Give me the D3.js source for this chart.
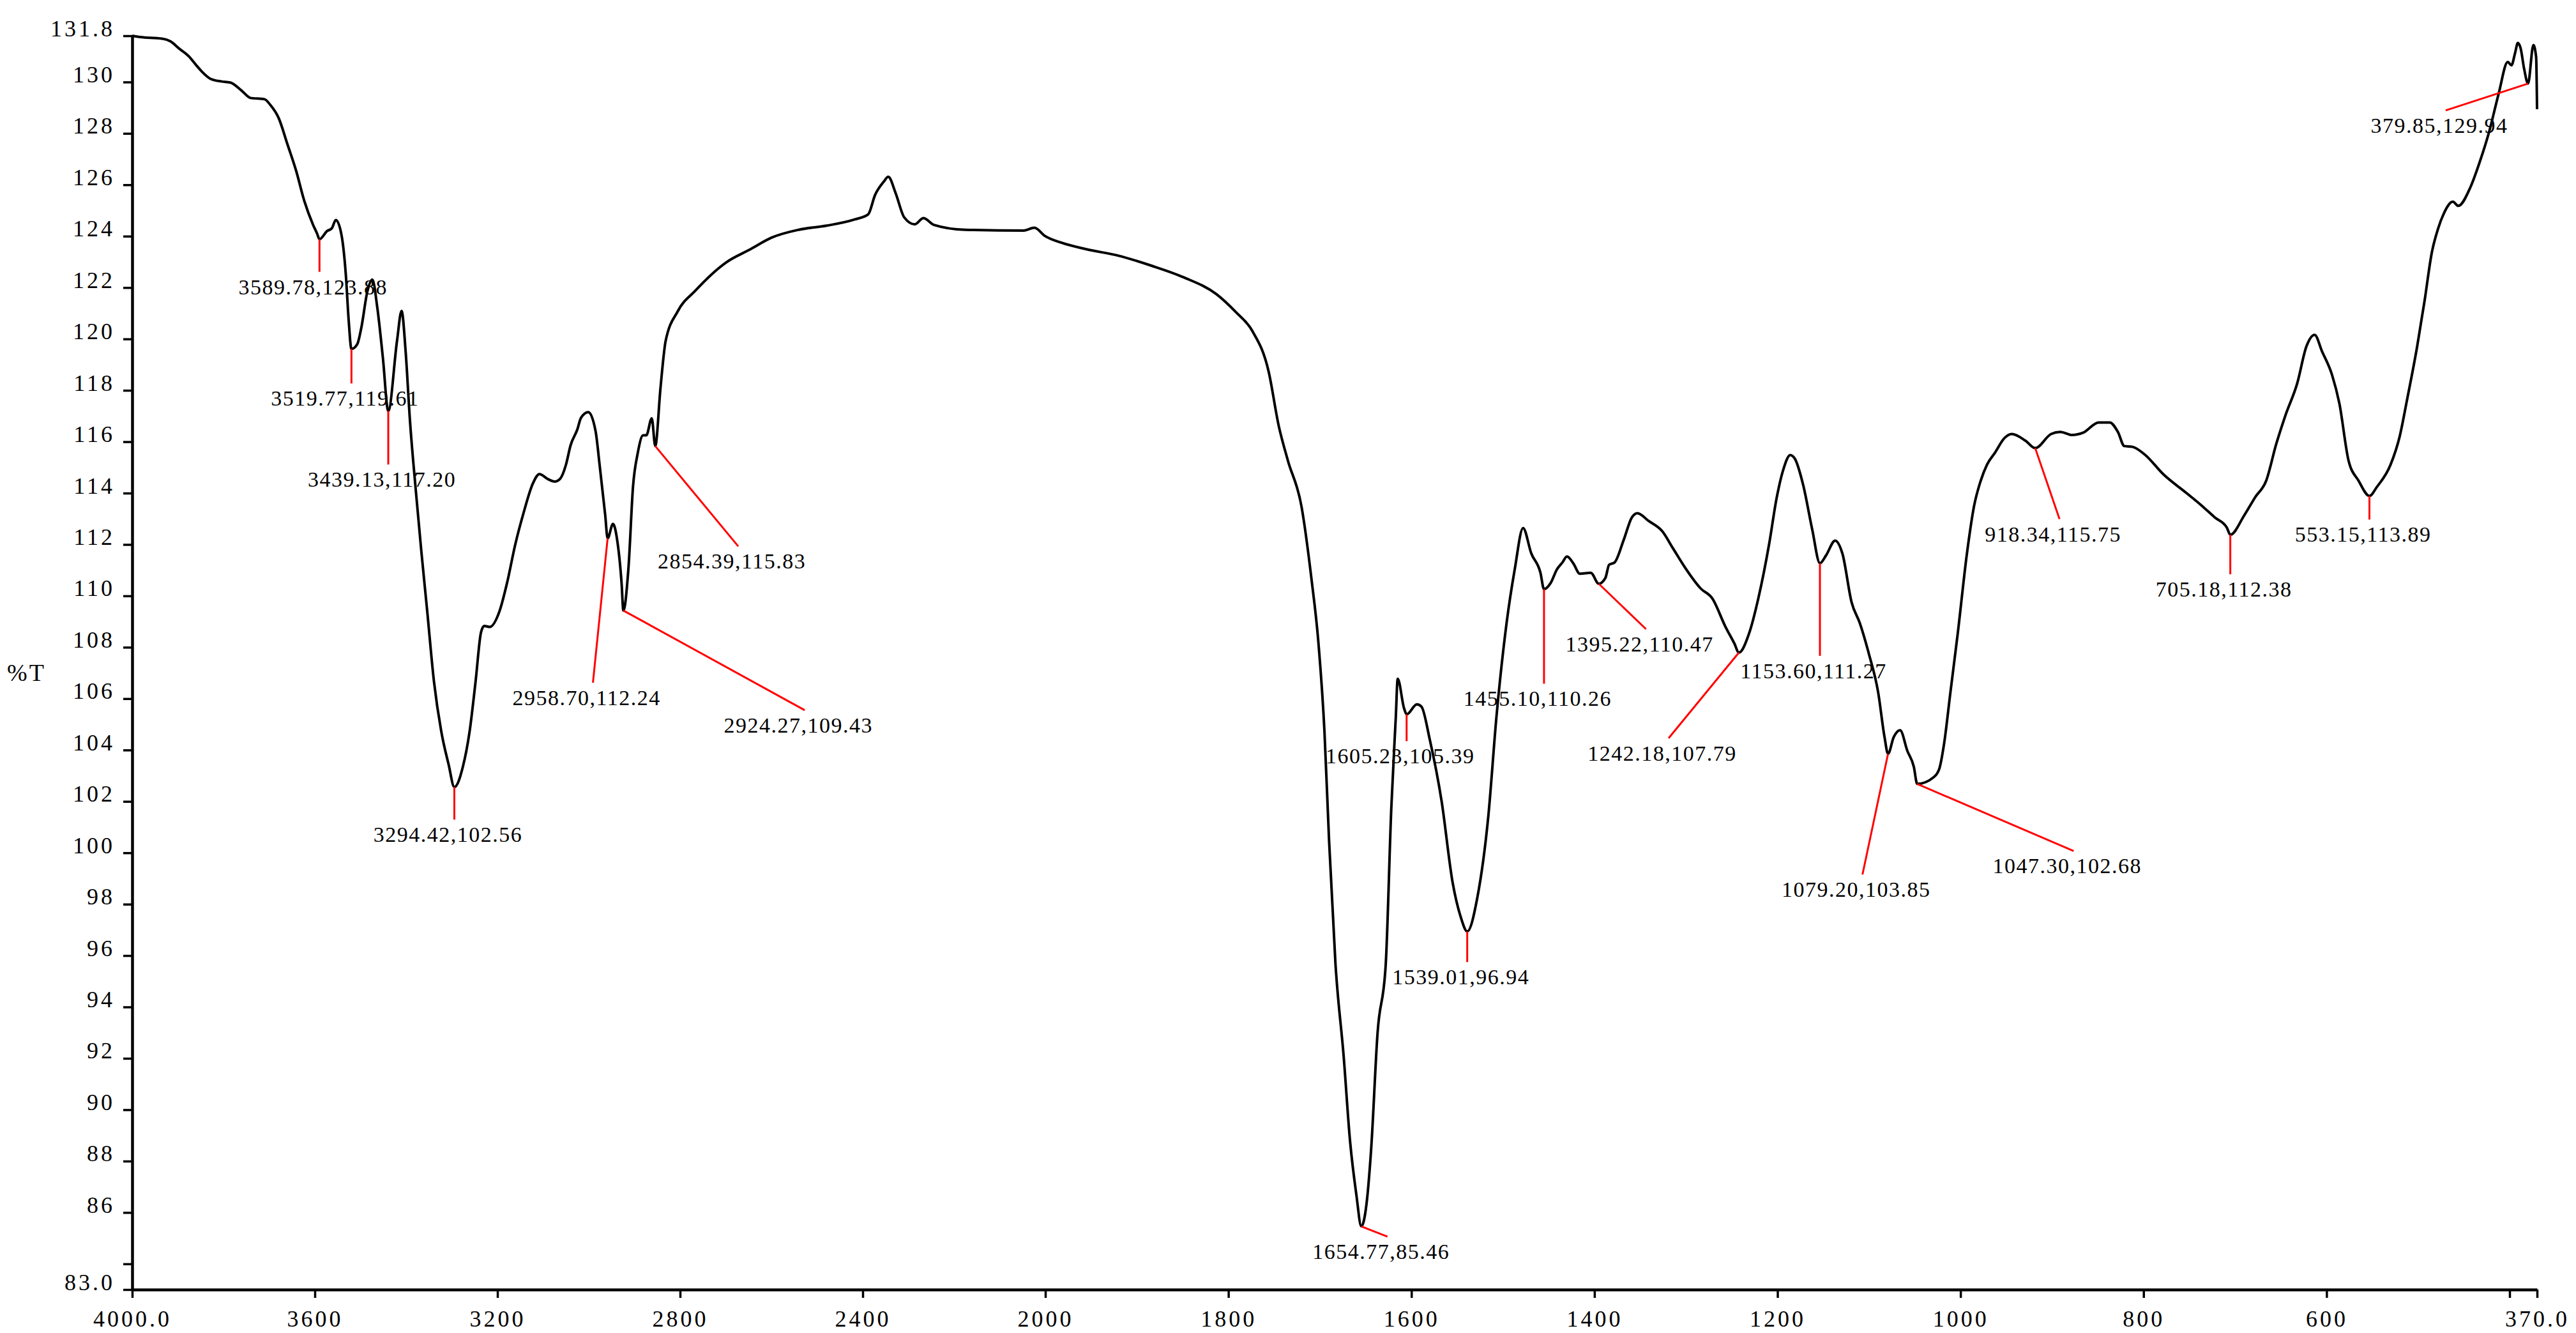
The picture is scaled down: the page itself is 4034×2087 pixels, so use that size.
<!DOCTYPE html>
<html><head><meta charset="utf-8">
<script src="https://cdn.jsdelivr.net/npm/d3@7"></script>
<style>
html,body{margin:0;padding:0;background:#fff;}
svg{display:block;}
text{font-family:"Liberation Serif","Times New Roman",serif;fill:#000;}
</style>
</head><body>
<svg id="chart" width="4034" height="2087"></svg>
<script>
// ---------- data ----------
const wavenumbers = [4000,3982,3935,3916,3897,3876,3860,3847,3829,3804,3785,3760,3741,3710,3698,3679,3660,3641,3623,3604,3595,3589.78,3573,3563,3554,3542,3532,3526,3519.77,3507,3498,3485,3474,3463,3451,3439.13,3420,3410,3401,3392,3379,3367,3354,3339,3323,3307,3294.42,3276,3261,3248,3236,3229,3217,3195,3179,3161,3142,3123,3108,3090,3074,3063,3050,3040,3025,3017,3001,2985,2976,2964,2958.70,2947,2938,2928,2924.27,2913,2903,2893,2881,2874,2862,2854.39,2843,2836,2832,2805,2767,2699,2646,2600,2540,2479,2418,2388,2373,2354,2344,2328,2309,2286,2267,2244,2176,2047,2024,2001,1982,1955,1920,1884,1849,1813,1792,1774,1756,1745,1735,1720,1709,1702,1695,1690,1683,1674,1667,1660,1654.77,1649,1644,1637,1628,1622,1617,1615,1608,1605.23,1594,1589,1580,1567,1555,1546,1539.01,1528,1516,1507,1496,1487,1478,1469,1459,1455.10,1448,1441,1435,1430,1423,1416,1404,1395.22,1388,1384,1378,1368,1359,1353,1341,1326,1314,1301,1284,1271,1257,1247,1242.18,1231,1221,1209,1201,1194,1186,1181,1172,1162,1153.60,1147,1137,1129,1119,1110,1100,1090,1083,1079.20,1073,1066,1058,1051,1047.30,1029,1023,1018,1011,1003,993,985,978,971,962,952,944,929,918.34,901,891,878,866,849,837,828,821,812,799,778,753,737,722,709,705.18,690,678,666,655,645,632,622,613,605,594,586,576,565,553.15,545,530,520,512,501,493,485,478,472,462,456,443,433,422,412,402,398,394,391,388,384,379.85,374,371,370];
const transmittance = [131.8,131.75,131.69,131.58,131.3,131.0,130.66,130.4,130.13,130.02,129.98,129.66,129.38,129.33,129.12,128.59,127.58,126.55,125.37,124.45,124.1,123.88,124.2,124.3,124.63,124.09,122.48,120.77,119.61,119.8,120.45,121.84,122.31,121.2,119.28,117.20,119.92,121.09,119.49,116.92,114.14,111.79,109.44,106.66,104.72,103.44,102.56,103.33,104.72,106.65,108.58,108.83,108.79,109.43,110.5,112.0,113.28,114.35,114.74,114.55,114.45,114.55,115.1,115.85,116.48,116.93,117.15,116.4,115.06,113.15,112.24,112.8,112.2,110.46,109.43,111.1,114.27,115.53,116.25,116.25,116.91,115.83,118.07,119.34,119.89,121.08,121.87,122.98,123.49,123.94,124.25,124.41,124.65,124.85,125.6,126.12,126.31,125.68,124.73,124.46,124.70,124.44,124.25,124.22,124.33,124.01,123.74,123.49,123.24,122.85,122.4,121.74,121.05,120.32,118.73,116.62,115.27,113.46,110.6,108.34,104.72,100.5,95.69,92.07,88.76,86.65,85.46,86.35,88.46,92.98,95.69,101.71,105.32,106.77,105.62,105.39,105.78,105.69,104.42,102.01,98.85,97.49,96.94,98.25,101.41,105.32,108.94,111.05,112.64,111.65,110.9,110.26,110.49,111.03,111.3,111.53,111.26,110.86,110.9,110.47,110.7,111.21,111.3,112.18,113.06,113.22,112.92,112.52,111.84,111.1,110.29,109.89,108.81,108.14,107.79,108.54,109.89,112.04,113.79,114.87,115.48,115.34,114.33,112.58,111.27,111.57,112.15,111.64,109.75,108.94,107.73,106.25,104.5,103.85,104.5,104.77,103.96,103.35,102.68,102.95,103.29,104.23,106.25,108.54,111.64,113.53,114.47,115.11,115.59,116.14,116.3,116.04,115.75,116.3,116.38,116.26,116.35,116.75,116.75,116.38,115.83,115.8,115.51,114.72,114.0,113.53,113.05,112.66,112.38,113.13,113.84,114.48,115.91,117.02,118.28,119.71,120.16,119.52,118.6,117.49,115.27,114.48,113.89,114.24,115.11,116.22,117.64,119.71,121.46,123.36,124.31,124.87,125.34,125.18,125.89,126.85,128.11,129.54,130.78,130.65,131.13,131.52,131.32,130.49,129.94,131.44,130.97,128.94];

const peakWavenumbers = [3589.78,3519.77,3439.13,3294.42,2958.70,2924.27,2854.39,1654.77,1605.23,1539.01,1455.10,1395.22,1242.18,1153.60,1079.20,1047.30,918.34,705.18,553.15,379.85];
const peakTransmittance = [123.88,119.61,117.20,102.56,112.24,109.43,115.83,85.46,105.39,96.94,110.26,110.47,107.79,111.27,103.85,102.68,115.75,112.38,113.89,129.94];

const yTickValues = [131.8,130,128,126,124,122,120,118,116,114,112,110,108,106,104,102,100,98,96,94,92,90,88,86,84,83];
const yTickLabels = ["131.8","130","128","126","124","122","120","118","116","114","112","110","108","106","104","102","100","98","96","94","92","90","88","86","","83.0"];
const xTickValues = [4000,3600,3200,2800,2400,2000,1800,1600,1400,1200,1000,800,600,400,370];
const xTickLabels = ["4000.0","3600","3200","2800","2400","2000","1800","1600","1400","1200","1000","800","600","","370.0"];

// layout: leader-line end offsets (px) from each annotated point
const labelOffsets = [[0,51],[0,54],[0,84],[0,51],[-23,226],[284,156],[130,157],[41,16],[0,42],[0,48],[0,148],[74,71],[-110,134],[0,145],[-40,189],[245,105],[38,111],[0,62],[0,37],[-129,42]];

// ---------- scales ----------
const x = d3.scaleLinear().domain([4000, 2000, 370]).range([207, 1637, 3973]);
const y = d3.scaleLinear().domain([83, 131.8]).range([2019, 56]);

const svg = d3.select('#chart');
svg.append('rect').attr('width',4034).attr('height',2087).attr('fill','#fff');

// ---------- axes ----------
const yAxis = d3.axisLeft(y).tickValues(yTickValues)
  .tickFormat((d,i)=>yTickLabels[i]).tickSize(14).tickSizeOuter(0).tickPadding(13);
const gy = svg.append('g').attr('transform',`translate(${x(4000)},0)`).call(yAxis);
gy.select('.domain').attr('stroke','#000').attr('stroke-width',4.5);
gy.selectAll('.tick line').attr('stroke','#000').attr('stroke-width',3.5);
gy.selectAll('.tick text').attr('dy','0').attr('font-size',36).attr('letter-spacing',4)
  .attr('font-family','"Liberation Serif","Times New Roman",serif').attr('fill','#000');

const xAxis = d3.axisBottom(x).tickValues(xTickValues)
  .tickFormat((d,i)=>xTickLabels[i]).tickSize(13).tickSizeOuter(0);
const gx = svg.append('g').attr('transform',`translate(0,${y(83)})`).call(xAxis);
gx.select('.domain').attr('stroke','#000').attr('stroke-width',4.5);
gx.selectAll('.tick line').attr('stroke','#000').attr('stroke-width',3.5);
gx.selectAll('.tick text').attr('y',58).attr('dy','0').attr('font-size',36).attr('letter-spacing',4)
  .attr('font-family','"Liberation Serif","Times New Roman",serif').attr('fill','#000');

svg.append('text').attr('x',11).attr('y',1066).attr('font-size',38).attr('letter-spacing',3).text('%T');

// ---------- spectrum ----------
const pts = wavenumbers.map((w,i)=>[w, transmittance[i]]);
const line = d3.line().x(d=>x(d[0])).y(d=>y(d[1])).curve(d3.curveMonotoneX);
svg.append('path').datum(pts).attr('d',line).attr('fill','none')
  .attr('stroke','#000').attr('stroke-width',4).attr('stroke-linejoin','round');

// ---------- peak labels ----------
const ann = svg.append('g');
peakWavenumbers.forEach((w,i)=>{
  const t = peakTransmittance[i];
  const px = x(w), py = y(t);
  const ex = px + labelOffsets[i][0], ey = py + labelOffsets[i][1];
  ann.append('line').attr('x1',px).attr('y1',py).attr('x2',ex).attr('y2',ey)
    .attr('stroke','#ff0000').attr('stroke-width',3);
  ann.append('text').attr('x',ex-10).attr('y',ey+35).attr('text-anchor','middle')
    .attr('font-size',34).attr('letter-spacing',1.5)
    .text(`${w.toFixed(2)},${t.toFixed(2)}`);
});
</script>
</body></html>
